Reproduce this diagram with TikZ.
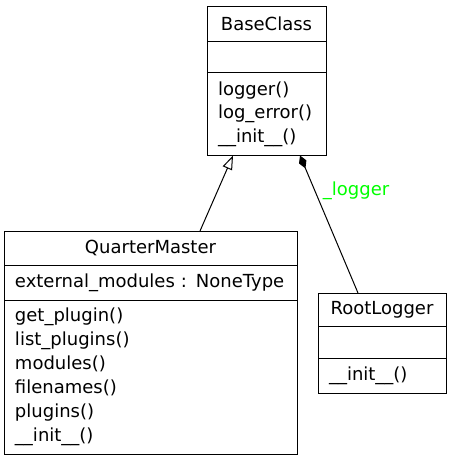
\documentclass[tikz,border=0pt]{standalone}
\usepackage{fontspec}
\setmainfont{DejaVu Sans}
\usetikzlibrary{arrows.meta,positioning}
\definecolor{labelgreen}{RGB}{0,255,0}

\begin{document}
\begin{tikzpicture}[
    x=1pt, y=-1pt,
    font=\fontsize{18}{23.5}\selectfont,
    classpart/.style={
        draw=black,
        fill=white,
        line width=1pt,
        inner sep=0pt,
        outer sep=0pt,
        align=center
    },
    memberpart/.style={
        classpart,
        align=left,
        inner xsep=11pt
    }
]
    \useasboundingbox (0, 0) rectangle (451, 461);

    % BaseClass
    \node[classpart, anchor=north, minimum width=119pt, minimum height=35.5pt] (basehead) at (266.5, 6) {BaseClass};
    \node[classpart, below=0pt of basehead, minimum width=119pt, minimum height=31pt] (baseattr) {};
    \node[memberpart, below=0pt of baseattr, text width=97pt, minimum height=83pt] (basemeth) {logger()\\log\_error()\\\_\_init\_\_()};

    % QuarterMaster
    \node[classpart, anchor=north, minimum width=293pt, minimum height=34.5pt] (qmhead) at (150.5, 231) {QuarterMaster};
    \node[memberpart, below=0pt of qmhead, text width=271pt, minimum height=34.5pt] (qmattr) {external\_modules : NoneType};
    \node[memberpart, below=0pt of qmattr, text width=271pt, minimum height=154pt, font=\fontsize{18}{24}\selectfont] (qmmeth) {get\_plugin()\\list\_plugins()\\modules()\\filenames()\\plugins()\\\_\_init\_\_()};

    % RootLogger
    \node[classpart, anchor=north, minimum width=128pt, minimum height=33pt] (rlhead) at (382, 293) {RootLogger};
    \node[classpart, below=0pt of rlhead, minimum width=128pt, minimum height=32.5pt] (rlattr) {};
    \node[memberpart, below=0pt of rlattr, text width=106pt, minimum height=34.5pt, inner xsep=11pt] (rlmeth) {\_\_init\_\_()};

    % Inheritance
    \draw[-{Triangle[open, length=14pt, width=10pt]}, line width=1pt] ([xshift=49.5pt]qmhead.north) -- ([xshift=-33.5pt]basemeth.south);

    % Composition
    \draw[{Diamond[length=14pt, width=8pt]}-, line width=1pt] ([xshift=33.5pt]basemeth.south) -- 
        node[pos=0.26, right=4pt, text=labelgreen] (loggerlabel) {\_logger} 
        ([xshift=-24pt]rlhead.north);
\end{tikzpicture}
\end{document}
